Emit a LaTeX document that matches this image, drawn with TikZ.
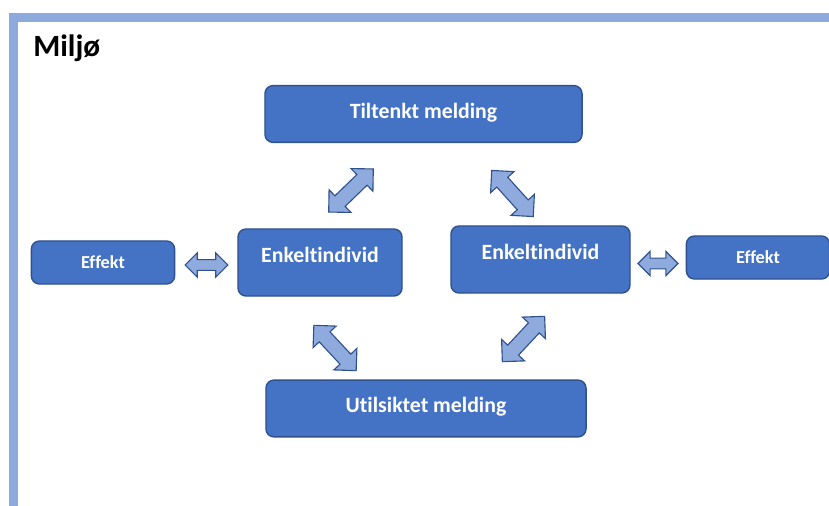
\documentclass[tikz,border=0pt]{standalone}
\usepackage{fontspec}
\setmainfont{Carlito}[Ligatures=NoCommon]
\usetikzlibrary{shapes.arrows}

\definecolor{boxblue}{HTML}{4472C4}
\definecolor{edgeblue}{HTML}{2F528F}
\definecolor{arrowblue}{HTML}{8FAADC}
\definecolor{framebar}{HTML}{8EA9DB}

\tikzset{
    blokk/.style={draw=edgeblue, fill=boxblue, line width=1pt, rounded corners=.2cm,
        text=white, font=\bfseries, inner sep=0pt},
    melding/.style={blokk, minimum height=1.42cm, text height=.36cm, text depth=.16cm,
        font=\fontsize{15.5}{18}\selectfont\bfseries},
    individ/.style={blokk, minimum height=1.675cm, text height=.42cm, text depth=.42cm,
        font=\fontsize{15.5}{18}\selectfont\bfseries},
    effekt/.style={blokk, minimum width=3.58cm, minimum height=1.075cm,
        font=\fontsize{13}{15}\selectfont\bfseries},
    dobbelpil/.style={shape=double arrow, draw=edgeblue, fill=arrowblue, line width=.8pt,
        inner xsep=0pt, inner ysep=.17cm, double arrow head extend=.21cm, minimum height=1.55cm},
    smalpil/.style={dobbelpil, inner ysep=.12cm, double arrow head extend=.17cm, minimum height=1.07cm}
}

\begin{document}
\begin{tikzpicture}[x=.025cm, y=-.025cm]
    \useasboundingbox (0,0) rectangle (829,506);
    % ramme
    \fill[framebar] (9,13) rectangle (829,22);
    \fill[framebar] (9,13) rectangle (18,506);
    \node[anchor=base west, inner sep=0pt] (tittel) at (33,56) {\fontsize{22}{25}\selectfont\bfseries Miljø};

    % bokser
    \node[melding, minimum width=7.925cm] (tiltenkt) at (423.5,114) {Tiltenkt melding};
    \node[melding, minimum width=8cm] (utilsiktet) at (426,408.5) {Utilsiktet melding};
    \node[individ, minimum width=4.1cm] (individV) at (320,262.5) {Enkeltindivid};
    \node[individ, minimum width=4.475cm] (individH) at (540.5,259.5) {Enkeltindivid};
    \node[effekt] (effektV) at (103,262.5) {Effekt};
    \node[effekt] (effektH) at (758,257.5) {Effekt};

    % piler
    \node[dobbelpil, rotate=44] (pilOV) at (351,190.5) {};
    \node[dobbelpil, rotate=-48] (pilOH) at (512.5,193.5) {};
    \node[dobbelpil, rotate=-47] (pilNV) at (335,348) {};
    \node[dobbelpil, rotate=47] (pilNH) at (523.5,339) {};
    \node[smalpil] (pilV) at (206.5,265) {};
    \node[smalpil, minimum height=1cm] (pilH) at (658,263.5) {};
\end{tikzpicture}
\end{document}
